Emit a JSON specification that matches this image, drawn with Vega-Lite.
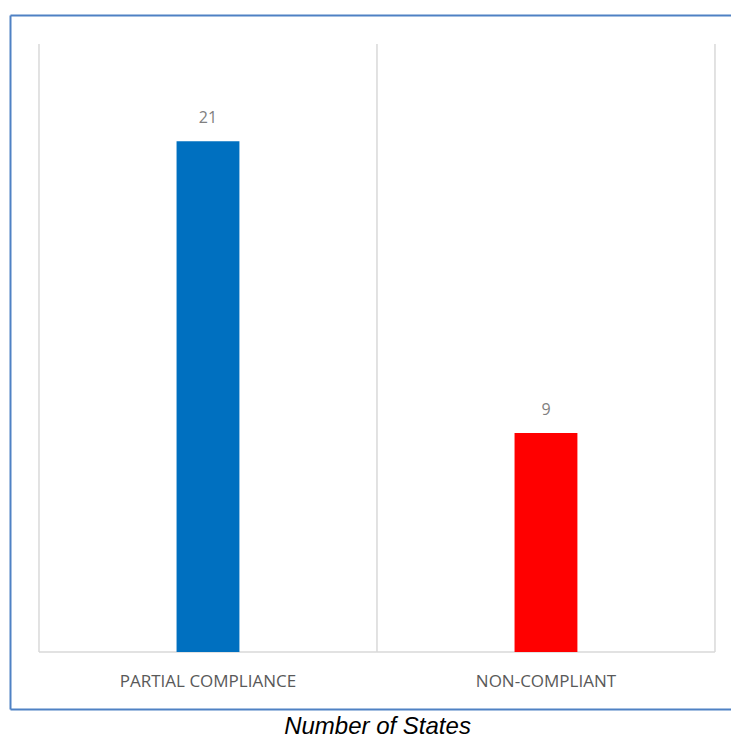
{
  "$schema": "https://vega.github.io/schema/vega-lite/v6.json",
  "width": 721,
  "height": 694,
  "padding": {"left": 10, "top": 15, "right": 0, "bottom": 0},
  "background": "white",
  "config": {"view": {"stroke": null}},
  "title": {
    "text": "Number of States",
    "orient": "bottom",
    "anchor": "middle",
    "frame": "group",
    "font": "Liberation Sans",
    "fontSize": 24,
    "fontStyle": "italic",
    "fontWeight": "normal",
    "color": "#000000",
    "offset": 6,
    "dx": 7
  },
  "data": {
    "values": [
      {"status": "PARTIAL COMPLIANCE", "states": 21},
      {"status": "NON-COMPLIANT", "states": 9}
    ]
  },
  "layer": [
    {
      "mark": {"type": "rule", "color": "#d9d9d9", "strokeWidth": 1.5},
      "encoding": {
        "x": {"field": "status", "type": "nominal", "sort": null, "bandPosition": 0,
              "scale": {"paddingInner": 0, "paddingOuter": 0.0666, "align": 0.644},
              "axis": {"title": null, "domain": false, "ticks": false, "grid": false, "labelFont": "Open Sans", "labelFontSize": 17, "labelColor": "#595959", "labelBaseline": "alphabetic", "labelPadding": -23, "labelAngle": 0}},
        "y": {"datum": 0, "type": "quantitative", "scale": {"domain": [-2.344, 26.192], "nice": false, "zero": false}},
        "y2": {"datum": 25}
      }
    },
    {
      "transform": [{"filter": "datum.status === 'NON-COMPLIANT'"}],
      "mark": {"type": "rule", "color": "#d9d9d9", "strokeWidth": 1.5},
      "encoding": {
        "x": {"field": "status", "type": "nominal", "sort": null, "bandPosition": 1},
        "y": {"datum": 0, "type": "quantitative"},
        "y2": {"datum": 25}
      }
    },
    {
      "mark": {"type": "rule", "color": "#d9d9d9", "strokeWidth": 1.5},
      "encoding": {
        "x": {"field": "status", "type": "nominal", "sort": null, "bandPosition": 0},
        "x2": {"field": "status", "bandPosition": 1},
        "y": {"datum": 0, "type": "quantitative"}
      }
    },
    {
      "mark": {"type": "bar", "width": {"band": 0.186}},
      "encoding": {
        "x": {"field": "status", "type": "nominal", "sort": null},
        "y": {"field": "states", "type": "quantitative",
              "axis": {"title": null, "orient": "left", "labels": false, "ticks": false, "domain": true, "domainColor": "#4f81c4", "domainWidth": 2, "grid": true, "gridColor": "#4f81c4", "gridWidth": 2, "values": [-2.344, 26.192]}},
        "y2": {"datum": 0},
        "color": {"field": "status", "type": "nominal", "legend": null,
                  "scale": {"domain": ["PARTIAL COMPLIANCE", "NON-COMPLIANT"], "range": ["#0070C0", "#FF0000"]}}
      }
    },
    {
      "mark": {"type": "text", "baseline": "alphabetic", "dy": -18, "font": "Open Sans", "fontSize": 16, "color": "#808080"},
      "encoding": {
        "x": {"field": "status", "type": "nominal", "sort": null},
        "y": {"field": "states", "type": "quantitative"},
        "text": {"field": "states", "type": "quantitative"}
      }
    }
  ]
}
